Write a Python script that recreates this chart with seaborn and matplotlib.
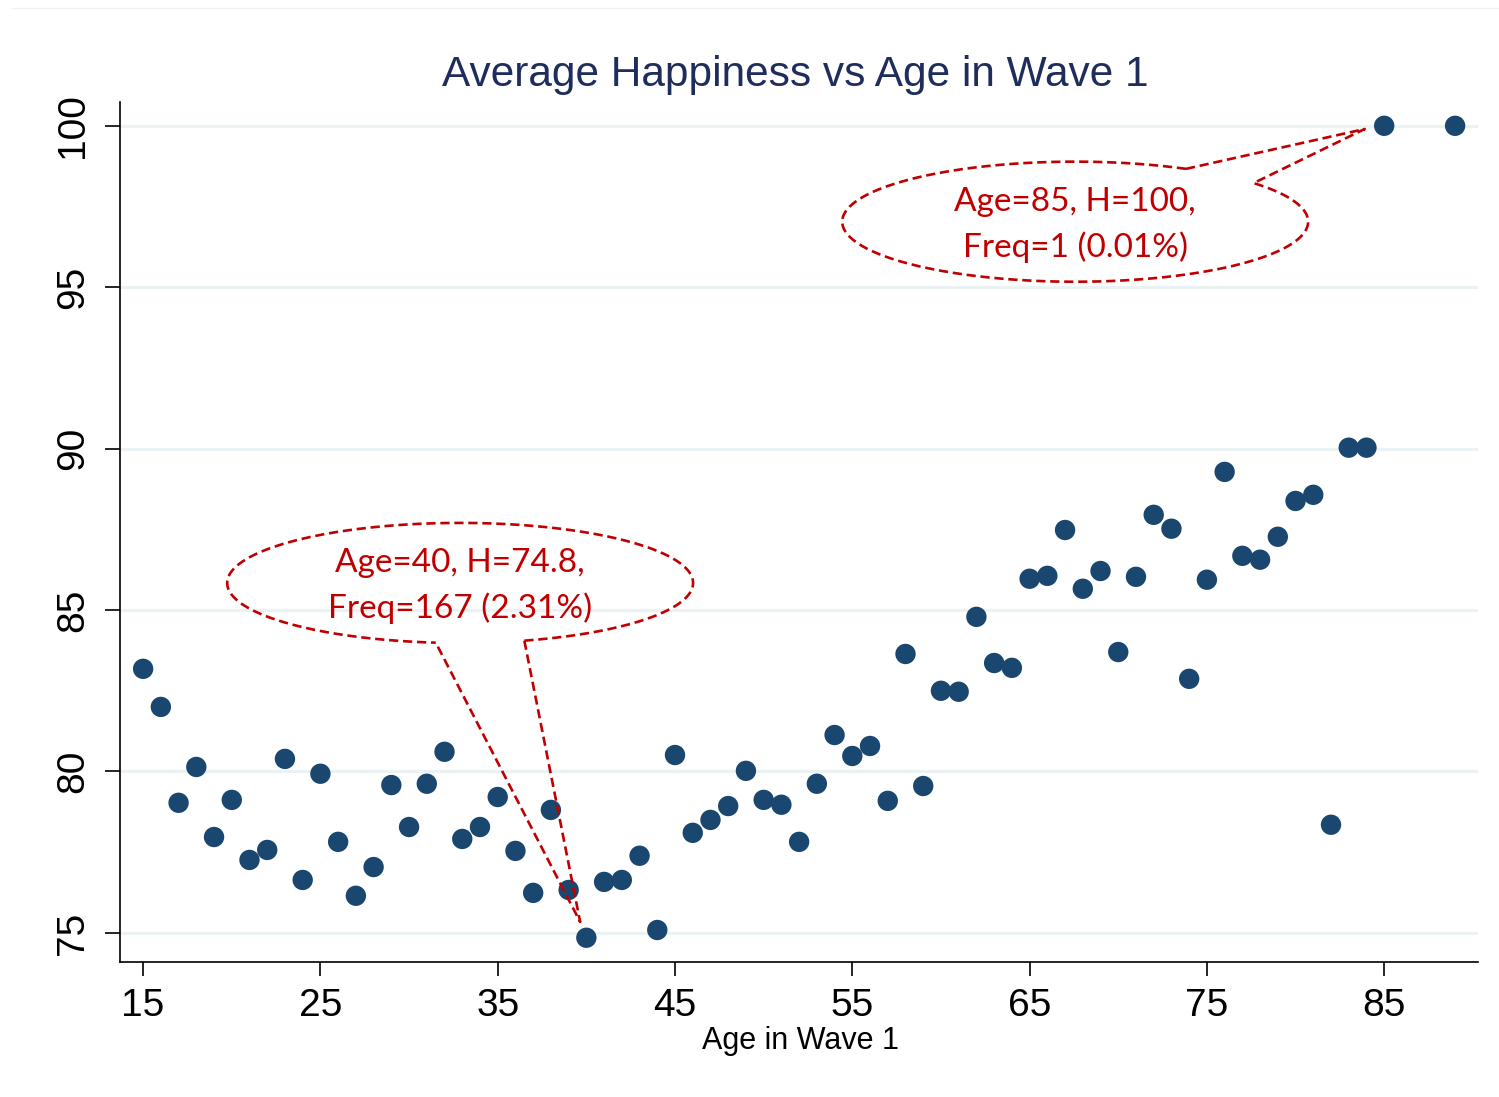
import numpy as np
import pandas as pd
import matplotlib
matplotlib.use("Agg")
import matplotlib.pyplot as plt
from matplotlib.lines import Line2D
import seaborn as sns

# Data
ages = list(range(15, 86)) + [89]
happiness = [
    83.18, 82.00, 79.03, 80.14, 77.97, 79.12, 77.26, 77.57, 80.39, 76.64,
    79.93, 77.82, 76.15, 77.04, 79.58, 78.28, 79.62, 80.61, 77.91, 78.28,
    79.21, 77.54, 76.24, 78.81, 76.33, 74.85, 76.58, 76.64, 77.39, 75.09,
    80.51, 78.10, 78.50, 78.93, 80.02, 79.12, 78.97, 77.82, 79.62, 81.13,
    80.48, 80.79, 79.09, 83.64, 79.55, 82.50, 82.47, 84.79, 83.36, 83.21,
    85.97, 86.06, 87.48, 85.66, 86.21, 83.70, 86.03, 87.95, 87.52, 82.87,
    85.94, 89.28, 86.68, 86.56, 87.27, 88.38, 88.57, 78.35, 90.03, 90.03,
    100.0, 100.0,
]
x_ticks = [15, 25, 35, 45, 55, 65, 75, 85]
y_ticks = [75, 80, 85, 90, 95, 100]

callout_text = ["Age=85, H=100,\nFreq=1 (0.01%)", "Age=40, H=74.8,\nFreq=167 (2.31%)"]
callout_center = [(67.57, 97.03), (32.88, 85.84)]
callout_tip = [(83.9, 99.9), (39.65, 75.34)]
callout_gap = [(40, 61.6), (264, 286)]  # parametric angles where the pointer attaches

df = pd.DataFrame({"age": ages, "happy": happiness})

sns.set_theme(style="white")
plt.rcParams["font.family"] = ["Liberation Sans", "DejaVu Sans"]

navy = "#1a476f"
red = "#c00000"

fig = plt.figure(figsize=(14.99, 10.97), dpi=100)
ax = fig.add_axes([0.0801, 0.1231, 0.906, 0.784])

for t in y_ticks:
    ax.axhline(t, color="#eaf2f3", lw=2.2, zorder=0)

sns.scatterplot(data=df, x="age", y="happy", color=navy, s=215,
                edgecolor="none", ax=ax, zorder=3)

# callouts: dashed ellipse + pointer
rx, ry = 13.14, 1.86
for text, (cx, cy), (tx, ty), (g0, g1) in zip(callout_text, callout_center,
                                               callout_tip, callout_gap):
    t = np.deg2rad(np.linspace(g1, g0 + 360, 300))
    ax.plot(cx + rx * np.cos(t), cy + ry * np.sin(t), color=red, lw=1.9,
            ls=(0, (3.5, 1.8)), zorder=4)
    a0 = (cx + rx * np.cos(np.deg2rad(g1)), cy + ry * np.sin(np.deg2rad(g1)))
    a1 = (cx + rx * np.cos(np.deg2rad(g0)), cy + ry * np.sin(np.deg2rad(g0)))
    ax.plot([a0[0], tx, a1[0]], [a0[1], ty, a1[1]], color=red, lw=1.9,
            ls=(0, (3.5, 1.8)), zorder=4)
    ax.text(cx, cy - 0.1, text, color=red, ha="center", va="center",
            fontsize=24, family=["Lato", "DejaVu Sans"], linespacing=1.55,
            zorder=5)

ax.set_xlim(13.70, 90.30)
ax.set_ylim(74.10, 100.74)
ax.set_xticks(x_ticks)
ax.set_yticks(y_ticks)
ax.set_xlabel("")
ax.set_ylabel("")
ax.tick_params(axis="x", length=10, width=1.2, pad=9, labelsize=28,
               color="black", labelcolor="black", bottom=True)
ax.tick_params(axis="y", length=11, width=1.2, pad=10, labelsize=28,
               color="black", labelcolor="black", left=True)
for lab in ax.get_yticklabels():
    lab.set_rotation(90)
    lab.set_va("center")

for side in ["top", "right"]:
    ax.spines[side].set_visible(False)
for side in ["left", "bottom"]:
    ax.spines[side].set_color("black")
    ax.spines[side].set_linewidth(1.2)

fig.text(0.5303, 0.932, "Average Happiness vs Age in Wave 1", ha="center",
         va="center", fontsize=30.5, color="#1f2d5c")
fig.text(0.5337, 0.051, "Age in Wave 1", ha="center", va="center",
         fontsize=22, color="black")
fig.add_artist(Line2D([0.008, 1.0], [0.993, 0.993], color="#eaf2f3", lw=1))

fig.savefig("out.png", dpi=100)
